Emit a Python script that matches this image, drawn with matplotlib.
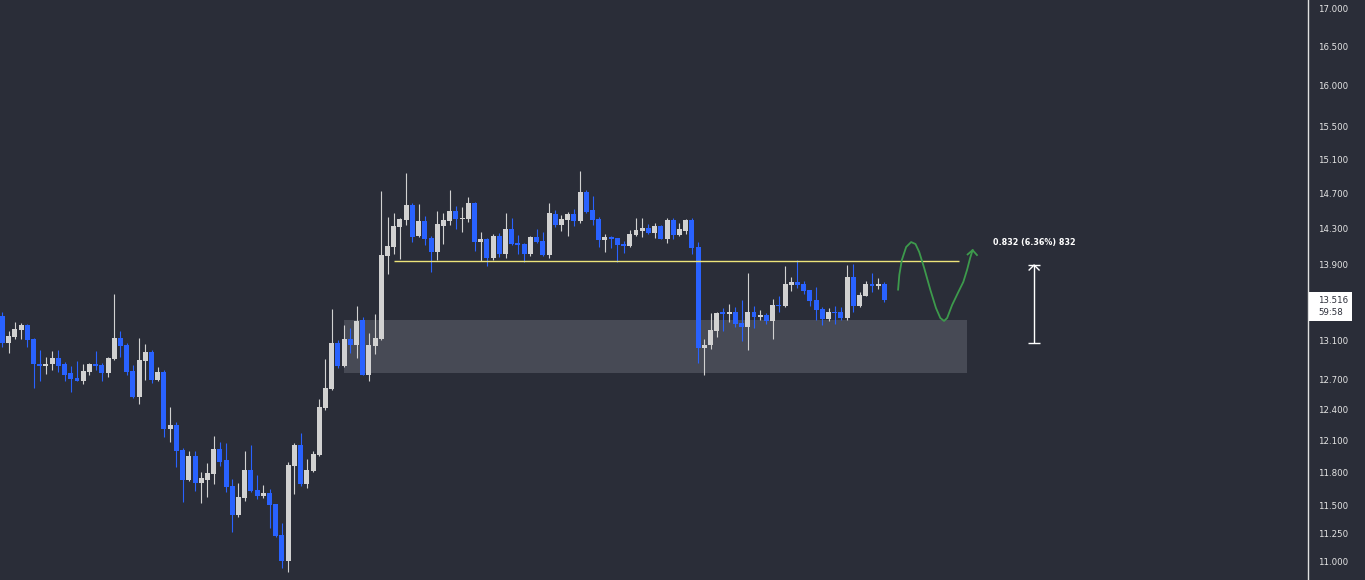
import matplotlib
matplotlib.use("Agg")
import matplotlib.pyplot as plt
from matplotlib.patches import Rectangle
from matplotlib.ticker import FixedLocator, FuncFormatter, NullLocator

# candle data (bar index = position in list)
opens = [13.35, 13.07, 13.13, 13.20, 13.26, 13.11, 12.85, 12.83, 12.85, 12.92,
         12.85, 12.76, 12.71, 12.68, 12.77, 12.85, 12.84, 12.76, 12.91, 13.12,
         13.05, 12.78, 12.53, 12.89, 12.98, 12.69, 12.77, 12.21, 12.25, 12.01,
         11.73, 11.96, 11.71, 11.73, 11.79, 12.02, 11.92, 11.68, 11.41, 11.57,
         11.83, 11.64, 11.59, 11.61, 11.51, 11.24, 11.01, 11.86, 12.06, 11.70,
         11.82, 11.97, 12.42, 12.60, 13.07, 12.83, 13.11, 13.05, 13.31, 12.74,
         13.04, 13.11, 14.00, 14.10, 14.32, 14.40, 14.57, 14.22, 14.39, 14.20,
         14.04, 14.33, 14.39, 14.50, 14.41, 14.41, 14.59, 14.15, 14.18, 13.97,
         14.22, 14.02, 14.30, 14.14, 14.13, 14.02, 14.21, 14.16, 14.01, 14.47,
         14.34, 14.40, 14.47, 14.39, 14.72, 14.51, 14.41, 14.17, 14.21, 14.20,
         14.13, 14.11, 14.23, 14.27, 14.31, 14.25, 14.33, 14.18, 14.40, 14.23,
         14.27, 14.40, 14.10, 13.02, 13.05, 13.19, 13.39, 13.37, 13.39, 13.28,
         13.24, 13.39, 13.34, 13.36, 13.30, 13.47, 13.46, 13.68, 13.71, 13.69,
         13.63, 13.52, 13.42, 13.32, 13.39, 13.39, 13.33, 13.77, 13.46, 13.56,
         13.69, 13.67, 13.69]
highs = [13.39, 13.19, 13.29, 13.28, 13.27, 13.12, 13.00, 12.93, 12.99, 13.00,
         12.88, 12.83, 12.89, 12.85, 12.86, 12.99, 12.86, 12.93, 13.58, 13.19,
         13.07, 12.84, 13.12, 13.06, 13.00, 12.82, 12.79, 12.43, 12.28, 12.03,
         12.00, 12.00, 11.81, 11.89, 12.15, 12.09, 12.08, 11.74, 11.71, 12.00,
         12.06, 11.78, 11.69, 11.65, 11.51, 11.34, 11.90, 12.08, 12.18, 11.93,
         12.00, 12.51, 12.91, 13.42, 13.10, 13.26, 13.22, 13.46, 13.34, 13.17,
         13.37, 14.73, 14.43, 14.48, 14.42, 14.94, 14.59, 14.58, 14.44, 14.22,
         14.50, 14.48, 14.74, 14.56, 14.55, 14.66, 14.60, 14.26, 14.19, 14.24,
         14.25, 14.48, 14.42, 14.23, 14.14, 14.22, 14.30, 14.26, 14.59, 14.51,
         14.46, 14.49, 14.52, 14.96, 14.74, 14.67, 14.43, 14.24, 14.22, 14.20,
         14.16, 14.29, 14.42, 14.42, 14.35, 14.36, 14.34, 14.42, 14.42, 14.36,
         14.41, 14.42, 14.15, 13.11, 13.38, 13.39, 13.43, 13.48, 13.45, 13.52,
         13.81, 13.46, 13.41, 13.38, 13.53, 13.56, 13.89, 13.77, 13.95, 13.72,
         13.63, 13.66, 13.45, 13.43, 13.46, 13.45, 13.90, 13.91, 13.60, 13.72,
         13.81, 13.76, 13.71]
lows = [13.03, 12.97, 13.11, 13.11, 13.03, 12.61, 12.68, 12.75, 12.79, 12.77,
        12.68, 12.57, 12.68, 12.65, 12.74, 12.79, 12.68, 12.72, 12.90, 12.93,
        12.74, 12.52, 12.46, 12.69, 12.66, 12.68, 12.14, 12.09, 11.85, 11.53,
        11.72, 11.63, 11.52, 11.58, 11.70, 11.86, 11.62, 11.26, 11.40, 11.54,
        11.62, 11.56, 11.57, 11.30, 11.22, 10.95, 10.91, 11.60, 11.68, 11.66,
        11.81, 11.96, 12.40, 12.59, 12.81, 12.82, 12.97, 12.92, 12.74, 12.68,
        12.96, 13.10, 13.80, 14.02, 13.96, 14.34, 14.15, 14.21, 14.12, 13.82,
        13.95, 14.13, 14.34, 14.30, 14.26, 14.38, 14.05, 13.94, 13.89, 13.95,
        13.98, 13.97, 14.12, 14.02, 13.93, 14.00, 14.14, 14.00, 13.97, 14.32,
        14.27, 14.22, 14.33, 14.36, 14.48, 14.34, 14.10, 14.04, 14.08, 13.93,
        14.03, 14.10, 14.22, 14.21, 14.24, 14.20, 14.18, 14.14, 14.18, 14.22,
        14.24, 14.02, 12.87, 12.74, 13.01, 13.13, 13.19, 13.29, 13.24, 13.09,
        13.00, 13.22, 13.31, 13.27, 13.11, 13.39, 13.45, 13.62, 13.65, 13.58,
        13.46, 13.31, 13.26, 13.30, 13.27, 13.31, 13.31, 13.39, 13.45, 13.56,
        13.60, 13.64, 13.50]
closes = [13.07, 13.14, 13.21, 13.26, 13.10, 12.85, 12.83, 12.85, 12.92, 12.83,
          12.74, 12.70, 12.68, 12.78, 12.85, 12.83, 12.76, 12.92, 13.12, 13.04,
          12.77, 12.53, 12.90, 12.98, 12.69, 12.77, 12.21, 12.25, 12.00, 11.73,
          11.96, 11.71, 11.75, 11.80, 12.02, 11.90, 11.67, 11.41, 11.58, 11.83,
          11.63, 11.59, 11.61, 11.50, 11.23, 11.01, 11.87, 12.06, 11.70, 11.83,
          11.98, 12.43, 12.61, 13.07, 12.83, 13.11, 13.05, 13.30, 12.745, 13.05,
          13.12, 14.01, 14.11, 14.33, 14.41, 14.57, 14.21, 14.39, 14.18, 14.04,
          14.35, 14.40, 14.50, 14.41, 14.42, 14.59, 14.15, 14.18, 13.97, 14.22,
          14.02, 14.30, 14.13, 14.12, 14.02, 14.21, 14.15, 14.01, 14.48, 14.34,
          14.41, 14.47, 14.39, 14.72, 14.49, 14.40, 14.17, 14.21, 14.18, 14.12,
          14.11, 14.24, 14.29, 14.31, 14.25, 14.33, 14.184, 14.40, 14.23, 14.30,
          14.40, 14.08, 13.02, 13.05, 13.20, 13.38, 13.37, 13.39, 13.27, 13.24,
          13.39, 13.34, 13.36, 13.30, 13.47, 13.46, 13.69, 13.71, 13.68, 13.62,
          13.51, 13.41, 13.32, 13.39, 13.38, 13.33, 13.77, 13.46, 13.57, 13.69,
          13.67, 13.69, 13.516]

price_ticks = [17.0, 16.5, 16.0, 15.5, 15.1, 14.7, 14.3, 13.9,
               13.1, 12.7, 12.4, 12.1, 11.8, 11.5, 11.25, 11.0]
last_price = 13.516
countdown = "59:58"

# drawings
zone_x = [55.0, 155.3]
zone_y = [12.765, 13.308]
level_x = [63.0, 154.0]
level_y = 13.94
path_x = [144.2, 144.4, 144.8, 145.5, 146.3, 147.0, 147.6, 148.4, 149.4, 150.3,
          151.0, 151.6, 152.1, 152.9, 153.9, 154.7, 155.3, 155.8, 156.2]
path_y = [13.63, 13.79, 13.95, 14.095, 14.15, 14.128, 14.04, 13.864, 13.626, 13.434,
          13.329, 13.298, 13.329, 13.466, 13.604, 13.712, 13.842, 13.973, 14.06]
head_x = [155.4, 156.2, 156.9]
head_y = [14.013, 14.06, 14.006]
measure_x = 166.1
measure_lo, measure_hi = 13.068, 13.90
measure_text = "0.832 (6.36%) 832"

BG = "#2a2d38"
UP = "#d1d1d1"
DOWN = "#2962ff"

fig = plt.figure(figsize=(13.65, 5.8), dpi=100, facecolor=BG)
ax = fig.add_axes([0, 0, 1308 / 1365, 1])
ax.set_facecolor(BG)
ax.set_yscale("log")

n = len(opens)
xs = list(range(n))
colors = [UP if c >= o else DOWN for o, c in zip(opens, closes)]
bottoms = [min(o, c) for o, c in zip(opens, closes)]
heights = [max(abs(c - o), 0.01) for o, c in zip(opens, closes)]

ax.add_patch(Rectangle((zone_x[0], zone_y[0]), zone_x[1] - zone_x[0],
                       zone_y[1] - zone_y[0], facecolor="#474a55",
                       edgecolor="none", zorder=1))
ax.vlines(xs, lows, highs, colors=colors, linewidth=0.8, zorder=2)
ax.bar(xs, heights, bottom=bottoms, width=0.8, color=colors, linewidth=0, zorder=3)

ax.hlines(level_y, level_x[0], level_x[1], colors="#ede47a", linewidth=1.0, zorder=4)

ax.plot(path_x, path_y, color="#3d9a4c", linewidth=1.3, zorder=4)
ax.plot(head_x, head_y, color="#3d9a4c", linewidth=1.3, zorder=4)

ax.vlines(measure_x, measure_lo, measure_hi, colors="white", linewidth=1.0, zorder=4)
ax.hlines([measure_lo, measure_hi], measure_x - 0.95, measure_x + 0.95,
          colors="white", linewidth=1.0, zorder=4)
ax.plot([measure_x - 0.8, measure_x, measure_x + 0.8],
        [13.842, 13.897, 13.842], color="white", linewidth=1.0, zorder=4)
ax.text(measure_x, 14.15, measure_text, color="white", fontsize=5.8,
        fontweight="bold", ha="center", va="center")

ax.set_xlim(-0.4, 210.2)
ax.set_ylim(10.845, 17.12)

ax.yaxis.tick_right()
ax.yaxis.set_major_locator(FixedLocator(price_ticks))
ax.yaxis.set_major_formatter(FuncFormatter(lambda v, p: f"{v:.3f}"))
ax.yaxis.set_minor_locator(NullLocator())
ax.tick_params(axis="y", length=0, pad=7, labelsize=6.2, labelcolor="#e6e6e6")
ax.set_xticks([])
for side in ["top", "left", "bottom"]:
    ax.spines[side].set_visible(False)
ax.spines["right"].set_color("#e0e0e0")
ax.spines["right"].set_linewidth(1.0)

# last price label on the scale
yx = ax.get_yaxis_transform()
ax.add_patch(Rectangle((1.0008, 13.298), 0.033, 13.60 - 13.298, transform=yx,
                       facecolor="white", edgecolor="none", clip_on=False, zorder=5))
ax.text(1.0076, last_price, f"{last_price:.3f}", transform=yx, fontsize=6.2,
        color="#2a2d38", ha="left", va="center", clip_on=False, zorder=6)
ax.text(1.0076, 13.39, countdown, transform=yx, fontsize=6.2,
        color="#2a2d38", ha="left", va="center", clip_on=False, zorder=6)

fig.savefig("out.png", dpi=100, facecolor=BG)
